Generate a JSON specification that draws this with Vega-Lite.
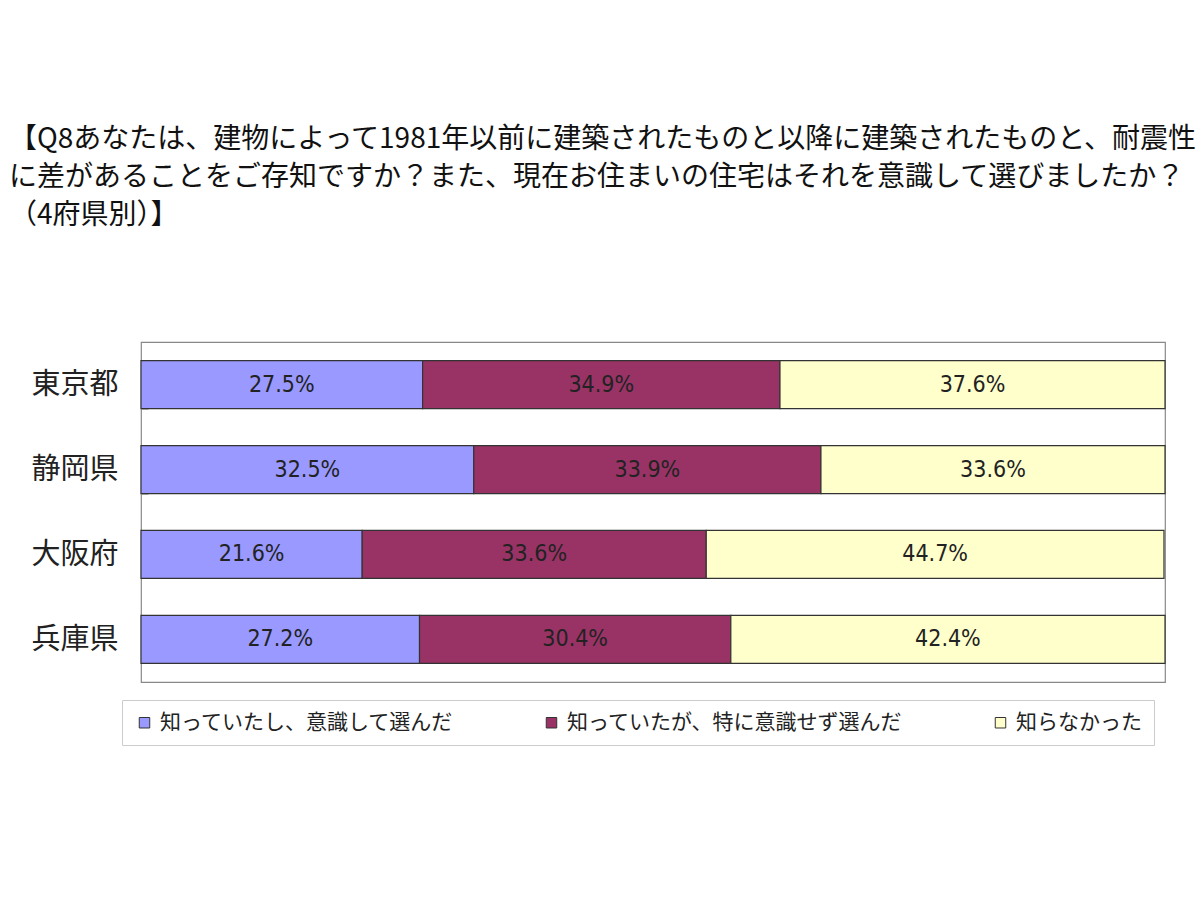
{
  "$schema": "https://vega.github.io/schema/vega-lite/v6.json",
  "autosize": "none",
  "width": 1024,
  "height": 340,
  "padding": {"left": 141, "top": 342, "right": 35, "bottom": 218},
  "background": "white",
  "title": {
    "text": ["【Q8あなたは、建物によって1981年以前に建築されたものと以降に建築されたものと、耐震性", "に差があることをご存知ですか？また、現在お住まいの住宅はそれを意識して選びましたか？", "（4府県別）】"],
    "anchor": "start",
    "frame": "group",
    "dx": -132,
    "offset": 98,
    "font": "Noto Sans CJK JP",
    "fontSize": 28,
    "fontWeight": "normal",
    "color": "#111",
    "lineHeight": 38
  },
  "data": {
    "values": [
      {"pref": "東京都", "cat": "知っていたし、意識して選んだ", "ord": 1, "value": 27.5},
      {"pref": "東京都", "cat": "知っていたが、特に意識せず選んだ", "ord": 2, "value": 34.9},
      {"pref": "東京都", "cat": "知らなかった", "ord": 3, "value": 37.6},
      {"pref": "静岡県", "cat": "知っていたし、意識して選んだ", "ord": 1, "value": 32.5},
      {"pref": "静岡県", "cat": "知っていたが、特に意識せず選んだ", "ord": 2, "value": 33.9},
      {"pref": "静岡県", "cat": "知らなかった", "ord": 3, "value": 33.6},
      {"pref": "大阪府", "cat": "知っていたし、意識して選んだ", "ord": 1, "value": 21.6},
      {"pref": "大阪府", "cat": "知っていたが、特に意識せず選んだ", "ord": 2, "value": 33.6},
      {"pref": "大阪府", "cat": "知らなかった", "ord": 3, "value": 44.7},
      {"pref": "兵庫県", "cat": "知っていたし、意識して選んだ", "ord": 1, "value": 27.2},
      {"pref": "兵庫県", "cat": "知っていたが、特に意識せず選んだ", "ord": 2, "value": 30.4},
      {"pref": "兵庫県", "cat": "知らなかった", "ord": 3, "value": 42.4}
    ]
  },
  "transform": [
    {"stack": "value", "groupby": ["pref"], "sort": [{"field": "ord", "order": "ascending"}], "as": ["x0", "x1"]},
    {"calculate": "(datum.x0 + datum.x1) / 2", "as": "mid"},
    {"calculate": "format(datum.value, '.1f') + '%'", "as": "label"}
  ],
  "encoding": {
    "y": {
      "field": "pref",
      "type": "nominal",
      "sort": ["東京都", "静岡県", "大阪府", "兵庫県"],
      "scale": {"paddingInner": 0.434, "paddingOuter": 0.22},
      "axis": {
        "title": null,
        "domain": false,
        "labelFont": "Noto Sans CJK JP",
        "labelFontSize": 29,
        "labelColor": "#222",
        "labelPadding": 30,
        "tickBand": "extent",
        "tickSize": -7,
        "tickColor": "#bbb",
        "tickWidth": 1
      }
    }
  },
  "layer": [
    {
      "mark": {"type": "bar", "stroke": "#333", "strokeWidth": 1.2},
      "encoding": {
        "x": {"field": "x0", "type": "quantitative", "scale": {"domain": [0, 100], "nice": false}, "axis": null},
        "x2": {"field": "x1"},
        "color": {
          "field": "cat",
          "type": "nominal",
          "scale": {
            "domain": ["知っていたし、意識して選んだ", "知っていたが、特に意識せず選んだ", "知らなかった"],
            "range": ["#9999FF", "#993366", "#FFFFCC"]
          },
          "legend": {
            "title": null,
            "orient": "none",
            "direction": "horizontal",
            "columns": 3,
            "legendX": -19,
            "legendY": 358,
            "padding": 12,
            "strokeColor": "#ccc",
            "fillColor": "white",
            "symbolType": "square",
            "symbolSize": 110,
            "symbolStrokeColor": "#333",
            "symbolStrokeWidth": 1,
            "symbolOpacity": 1,
            "labelFont": "Noto Sans CJK JP",
            "labelFontSize": 21,
            "labelColor": "#222",
            "labelLimit": 500,
            "labelOffset": 5,
            "columnPadding": 87
          }
        }
      }
    },
    {
      "mark": {"type": "text", "font": "Liberation Sans Narrow, DejaVu Sans Condensed, Liberation Sans, sans-serif", "fontSize": 23, "color": "#222", "baseline": "middle", "align": "center"},
      "encoding": {
        "x": {"field": "mid", "type": "quantitative"},
        "text": {"field": "label", "type": "nominal"}
      }
    }
  ],
  "config": {
    "view": {"stroke": "#888", "strokeWidth": 1.2}
  }
}
